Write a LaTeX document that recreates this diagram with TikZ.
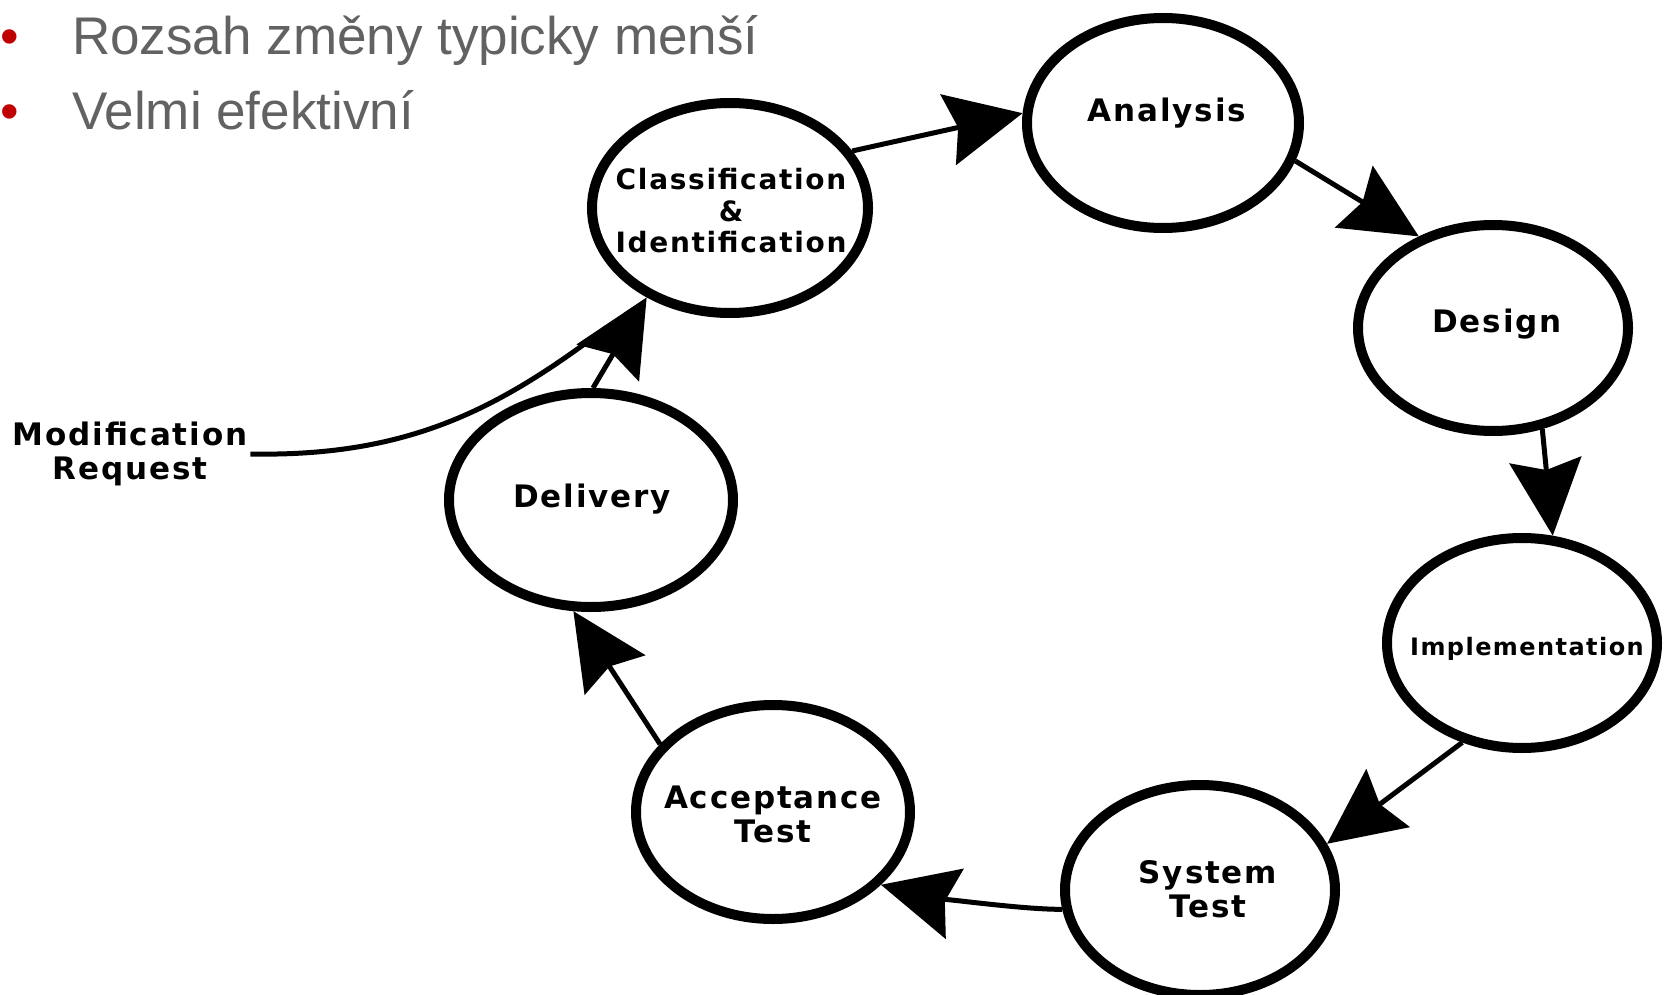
\documentclass[tikz,border=0pt]{standalone}
\usepackage{fontspec}
\setmainfont{Liberation Sans}
\newfontfamily\labfont[LetterSpace=6]{DejaVu Sans}
\usetikzlibrary{shapes.geometric,arrows.meta}
\definecolor{txtgray}{RGB}{98,98,98}
\definecolor{bulletred}{RGB}{192,0,0}
\begin{document}
\begin{tikzpicture}[x=1pt,y=-1pt,
  stage/.style={draw=black, line width=10pt, ellipse, inner sep=0pt, outer sep=5pt},
  lab/.style={font=\labfont\bfseries\fontsize{31}{34}\selectfont, align=center, inner sep=0pt},
  conn/.style={line width=5pt, -{Stealth[length=76pt,width=72pt,inset=10pt]}},
  modline/.style={line width=5pt, shorten >=50pt},
  toptext/.style={anchor=base west, inner sep=0pt, text=txtgray, font=\fontsize{53}{60}\selectfont},
  bullet/.style={anchor=base west, inner sep=0pt, text=bulletred, font=\fontsize{53}{60}\selectfont}
]
\useasboundingbox[fill=white] (0,0) rectangle (1666,995);

% bullet list
\node[bullet] (b1) at (0,55) {•};
\node[toptext] (t1) at (72,55) {Rozsah změny typicky menší};
\node[bullet] (b2) at (0,130) {•};
\node[toptext] (t2) at (72,130) {Velmi efektivní};

% stages
\node[stage, minimum width=276pt, minimum height=210pt] (cls) at (730,208) {};
\node[stage, minimum width=272pt, minimum height=210pt] (ana) at (1163,123) {};
\node[stage, minimum width=270pt, minimum height=206pt] (des) at (1493,328) {};
\node[stage, minimum width=270pt, minimum height=210pt] (imp) at (1522,643) {};
\node[stage, minimum width=270pt, minimum height=210pt] (sys) at (1200,890) {};
\node[stage, minimum width=274pt, minimum height=214pt] (acc) at (773,812) {};
\node[stage, minimum width=284pt, minimum height=214pt] (del) at (591,500) {};

% labels
\node[lab, font=\labfont\bfseries\fontsize{28}{31.5}\selectfont] (clsT) at (731,211) {Classification\\\&\\Identification};
\node[lab, anchor=base] (anaT) at (1167,122) {Analysis};
\node[lab, anchor=base] (desT) at (1497,332) {Design};
\node[lab, anchor=base, font=\labfont\bfseries\fontsize{24}{28}\selectfont] (impT) at (1527,655) {Implementation};
\node[lab] (sysT) at (1208,889) {System\\Test};
\node[lab] (accT) at (773,814) {Acceptance\\Test};
\node[lab, anchor=base] (delT) at (592,507) {Delivery};
\node[lab, outer sep=3pt] (mod) at (130,454) {Modification\\Request};

% connectors
\draw[conn] (cls.25) -- (ana.176);
\draw[conn] (ana.-16) -- (des.129);
\draw[conn] (des.-64) -- (imp.74);
\draw[conn] (imp.-121) -- (sys.20);
\draw[conn] (sys.-172) .. controls +(-50,0) and +(35,9) .. (acc.-34);
\draw[conn] (acc.149) -- (del.-99);
\draw[conn] (del.89) -- (cls.-133);
\draw[modline] (mod.east) .. controls (410,457) and (500,408) .. (cls.-133);
\end{tikzpicture}
\end{document}
